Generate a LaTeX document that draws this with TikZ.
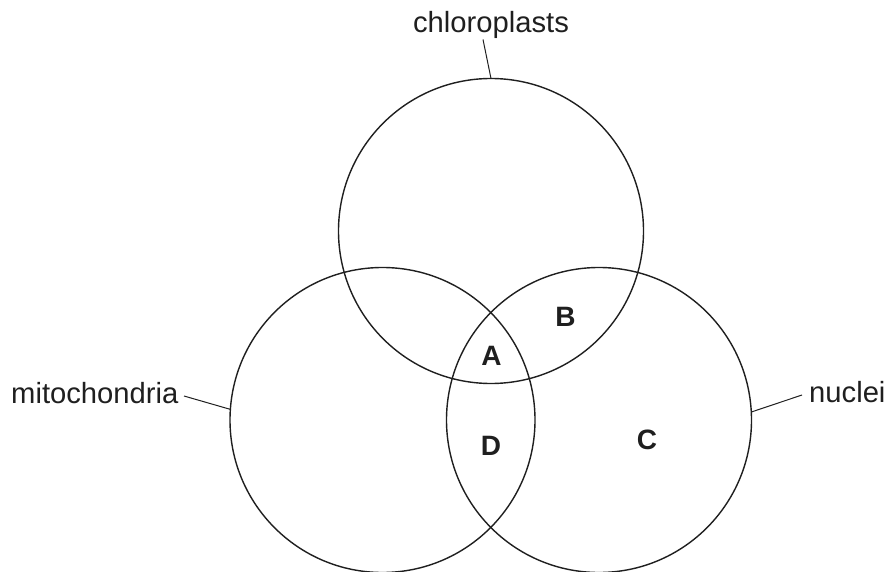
\documentclass[tikz,border=0pt]{standalone}
\usepackage{fontspec}
\setmainfont{Liberation Sans}
\begin{document}
\begin{tikzpicture}[x=1pt,y=-1pt]
\tikzset{
  setcircle/.style={circle,draw=black!88,line width=1.4pt,minimum size=305pt,inner sep=0pt,outer sep=0pt},
  lbl/.style={font=\fontsize{29.2}{31}\selectfont,text=black!88,inner sep=0pt,anchor=base},
  region/.style={font=\fontsize{28}{30}\selectfont\bfseries,text=black!88,inner sep=0pt},
  leader/.style={draw=black!88,line width=1pt}
}
\useasboundingbox (0,0) rectangle (889,572);
\node[setcircle] (top) at (491,231) {};
\node[setcircle] (left) at (382.5,420) {};
\node[setcircle] (right) at (599,420) {};
\node[lbl] (chl) at (491,33) {chloroplasts};
\node[lbl,anchor=base west] (mit) at (11,403) {mitochondria};
\node[lbl,anchor=base west] (nuc) at (809,402) {nuclei};
\coordinate (chlend) at (483,39.5);
\coordinate (mitend) at (184,396);
\coordinate (nucend) at (802,395);
\draw[leader] (chlend) -- (top.90);
\draw[leader] (mitend) -- (left.176);
\draw[leader] (nucend) -- (right.3.7);
\node[region] (A) at (491.5,356) {A};
\node[region] (B) at (565.5,317) {B};
\node[region] (C) at (647,440) {C};
\node[region] (D) at (491,445.5) {D};
\end{tikzpicture}
\end{document}
